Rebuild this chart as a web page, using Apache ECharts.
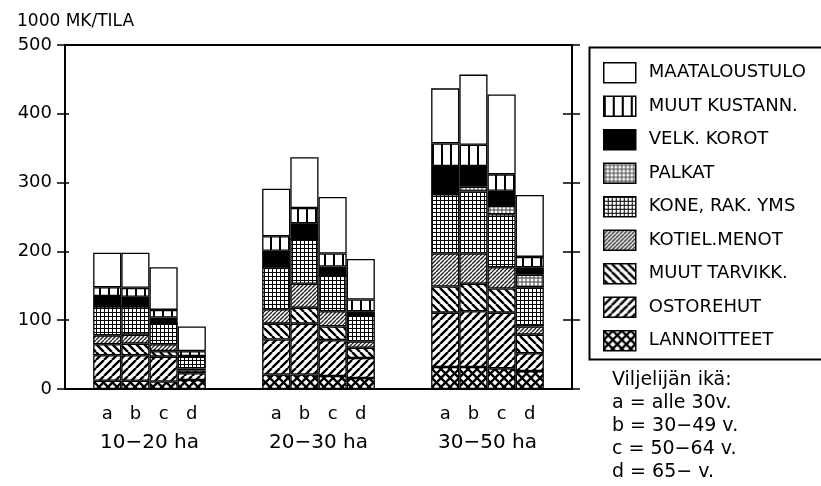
<!DOCTYPE html>
<html>
<head>
<meta charset="utf-8">
<script src="https://cdn.jsdelivr.net/npm/echarts@6/dist/echarts.min.js"></script>
<style>
html,body{margin:0;padding:0;background:#fff;}
#c{width:821px;height:486px;}
</style>
</head>
<body>
<div id="c"></div>
<script>
// ---- data ----
const groupLabels = ['10\u221220 ha', '20\u221230 ha', '30\u221250 ha'];
const barLabels = ['a', 'b', 'c', 'd'];
const yTicks = [0, 100, 200, 300, 400, 500];
// values per bar: group1 a-d, group2 a-d, group3 a-d (1000 mk / tila)
const lannoitteet  = [12, 12, 11, 13,  21, 21, 19, 16,  32, 32, 30, 26];
const ostorehut    = [37, 37, 36, 10,  51, 74, 52, 29,  79, 81, 81, 26];
const muutTarvikk  = [16, 17,  8,  4,  23, 23, 20, 15,  38, 40, 35, 27];
const kotielMenot  = [13, 13, 10,  3,  21, 35, 22,  9,  48, 44, 31, 12];
const koneRak      = [42, 41, 30, 17,  62, 64, 52, 39,  86, 90, 77, 57];
const palkat       = [ 0,  0,  0,  0,   0,  0,  0,  0,   0,  7, 12, 18];
const velkKorot    = [15, 14,  9,  1,  23, 24, 13,  5,  41, 30, 22, 11];
const muutKustann  = [13, 13, 11,  7,  21, 22, 19, 17,  33, 31, 24, 15];
const maataloustulo= [50, 51, 62, 36,  69, 74, 82, 59,  80,102,116, 90];
const ageNote = ['Viljelij\u00e4n ik\u00e4:', 'a = alle 30v.', 'b = 30\u221249 v.', 'c = 50\u221264 v.', 'd = 65\u2212 v.'];

// ---- layout helpers: 6 slots per group (gap, a, b, c, d, gap) ----
const categories = [];
groupLabels.forEach(() => { categories.push(''); barLabels.forEach(b => categories.push(b)); categories.push(''); });
function expand(vals) {
  const out = [];
  for (let g = 0; g < groupLabels.length; g++) {
    out.push(null);
    for (let i = 0; i < barLabels.length; i++) out.push(vals[g * barLabels.length + i]);
    out.push(null);
  }
  return out;
}

// ---- patterns ----
function pat(size, draw) {
  const c = document.createElement('canvas');
  c.width = c.height = size;
  const ctx = c.getContext('2d');
  ctx.fillStyle = '#fff';
  ctx.fillRect(0, 0, size, size);
  ctx.strokeStyle = '#000';
  ctx.fillStyle = '#000';
  draw(ctx, size);
  return { image: c, repeat: 'repeat' };
}
function slash(ctx, s, w) { ctx.lineWidth = w; ctx.beginPath(); for (let k = -1; k <= 1; k++) { ctx.moveTo(k * s, s); ctx.lineTo(k * s + s, 0); } ctx.stroke(); }
function back(ctx, s, w) { ctx.lineWidth = w; ctx.beginPath(); for (let k = -1; k <= 1; k++) { ctx.moveTo(k * s, 0); ctx.lineTo(k * s + s, s); } ctx.stroke(); }

const P = {
  white: '#ffffff',
  vstripe: pat(9, (c, s) => { c.fillRect(0, 0, 2, s); }),
  black: '#000000',
  dots: pat(4, (c, s) => { c.lineWidth = 0.8; c.beginPath(); c.arc(2, 2, 1.2, 0, Math.PI * 2); c.stroke(); }),
  grid: pat(4, (c, s) => { c.fillRect(0, 0, s, 1); c.fillRect(0, 0, 1, s); }),
  fine: pat(4, (c, s) => { c.strokeStyle = '#222'; slash(c, s, 1.4); }),
  back: pat(8, (c, s) => back(c, s, 2.4)),
  slash: pat(8, (c, s) => slash(c, s, 2.4)),
  cross: pat(9, (c, s) => { slash(c, s, 2.3); back(c, s, 2.3); })
};

const seriesDefs = [
  ['LANNOITTEET', lannoitteet, P.cross],
  ['OSTOREHUT', ostorehut, P.slash],
  ['MUUT TARVIKK.', muutTarvikk, P.back],
  ['KOTIEL.MENOT', kotielMenot, P.fine],
  ['KONE, RAK. YMS', koneRak, P.grid],
  ['PALKAT', palkat, P.dots],
  ['VELK. KOROT', velkKorot, P.black],
  ['MUUT KUSTANN.', muutKustann, P.vstripe],
  ['MAATALOUSTULO', maataloustulo, P.white]
];

const FONT = 'DejaVu Sans';
const axisLine = { show: true, lineStyle: { color: '#000', width: 2 } };
function yAx(pos, inside, len, labels) {
  return {
    type: 'value', position: pos, min: 0, max: 500, interval: 100,
    axisLine: axisLine,
    axisTick: { show: true, inside: inside, length: len, lineStyle: { color: '#000', width: 1.5 } },
    axisLabel: { show: labels, color: '#000', fontFamily: FONT, fontSize: 18, margin: 13 },
    splitLine: { show: false }
  };
}

const chart = echarts.init(document.getElementById('c'), null, { renderer: 'canvas' });
chart.setOption({
  animation: false,
  backgroundColor: '#fff',
  title: { text: '1000 MK/TILA', left: 12, top: 8, textStyle: { fontFamily: FONT, fontSize: 17, fontWeight: 'normal', color: '#000' } },
  grid: { left: 65, right: 249, top: 45, bottom: 97, show: true, borderColor: '#000', borderWidth: 2 },
  xAxis: [
    { type: 'category', data: categories, position: 'bottom', axisLine: axisLine, axisTick: { show: false },
      axisLabel: { color: '#000', fontFamily: FONT, fontSize: 18, margin: 16, interval: 0 } },
    { type: 'category', data: groupLabels, position: 'bottom', axisLine: { show: false }, axisTick: { show: false },
      axisLabel: { color: '#000', fontFamily: FONT, fontSize: 20, margin: 44, interval: 0 } },
    { type: 'category', data: categories, position: 'top', axisLine: axisLine, axisTick: { show: false }, axisLabel: { show: false } }
  ],
  yAxis: [yAx('left', false, 8, true), yAx('left', true, 4, false), yAx('right', false, 8, false), yAx('right', true, 9, false)],
  legend: {
    orient: 'vertical', left: 603, top: 62, padding: 0, itemGap: 12, itemWidth: 32, itemHeight: 20,
    icon: 'rect', selectedMode: false,
    data: seriesDefs.map(d => d[0]).reverse(),
    itemStyle: { borderColor: '#000', borderWidth: 1.5 },
    textStyle: { fontFamily: FONT, fontSize: 18, color: '#000', lineHeight: 20, padding: [0, 0, 0, 8] }
  },
  graphic: [
    { type: 'rect', left: 587, top: 45, shape: { width: 260, height: 312 }, style: { fill: 'none', stroke: '#000', lineWidth: 2 } },
    { type: 'text', left: 612, top: 369, style: { text: ageNote.join('\n'), font: '19px "DejaVu Sans"', fill: '#000', lineHeight: 23 } }
  ],
  series: seriesDefs.map(d => ({
    name: d[0], type: 'bar', stack: 'tot', xAxisIndex: 0, yAxisIndex: 0,
    barWidth: '100%', barCategoryGap: 0,
    data: expand(d[1]),
    itemStyle: { color: d[2], borderColor: '#000', borderWidth: 1.3 }
  }))
});
</script>
</body>
</html>
